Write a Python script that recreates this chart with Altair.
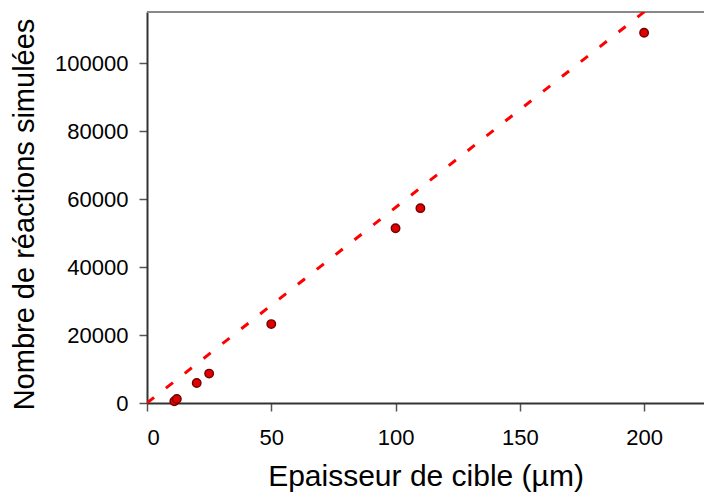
import altair as alt
import pandas as pd

# Data
thickness = [11, 12, 20, 25, 50, 100, 110, 200]
reactions = [500, 1200, 5900, 8650, 23200, 51400, 57300, 108900]
fit_x = [0, 225]
fit_y = [0, 129400]
x_ticks = [0, 50, 100, 150, 200]
y_ticks = [0, 20000, 40000, 60000, 80000, 100000]

W, H = 557, 391
XMAX, YMAX = 224.1, 115000

pts = pd.DataFrame({"x": thickness, "y": reactions})
fit = pd.DataFrame({"x": fit_x, "y": fit_y})

xs = alt.Scale(domain=[0, XMAX], nice=False, zero=True)
ys = alt.Scale(domain=[0, YMAX], nice=False, zero=True)

xaxis = alt.Axis(values=x_ticks, title="Epaisseur de cible (µm)", titlePadding=13,
                 labelPadding=16)
yaxis = alt.Axis(values=y_ticks, format="d", title="Nombre de réactions simulées",
                 titlePadding=15, labelPadding=11, titleY=202, titleFontSize=29)

line = alt.Chart(fit).mark_line(color="#ff0000", strokeWidth=3, strokeDash=[9, 15],
                                clip=True).encode(
    x=alt.X("x:Q", scale=xs, axis=xaxis),
    y=alt.Y("y:Q", scale=ys, axis=yaxis),
)

points = alt.Chart(pts).mark_point(filled=True, fill="#e00000", stroke="#700000",
                                   strokeWidth=1.4, size=72, opacity=1).encode(
    x=alt.X("x:Q", scale=xs),
    y=alt.Y("y:Q", scale=ys),
)

top = alt.Chart(pts).mark_rule(color="#888888", strokeWidth=2).encode(
    x=alt.value(0), x2=alt.value(W), y=alt.value(0)
)

chart = alt.layer(top, line, points).properties(
    width=W, height=H,
    autosize=alt.AutoSizeParams(type="none"),
    padding={"left": 139, "top": 4, "right": 0, "bottom": 89},
).configure_view(stroke=None).configure_axis(
    grid=False,
    domainColor="#333333", domainWidth=2,
    tickColor="#555555", tickSize=8, tickWidth=1.5,
    labelFont="Liberation Sans", labelFontSize=22, labelColor="#000000",
    titleFont="Liberation Sans", titleFontSize=30, titleFontWeight="normal",
    titleColor="#000000",
)

chart.save("out.html", embed_options={"renderer": "svg", "actions": False})
